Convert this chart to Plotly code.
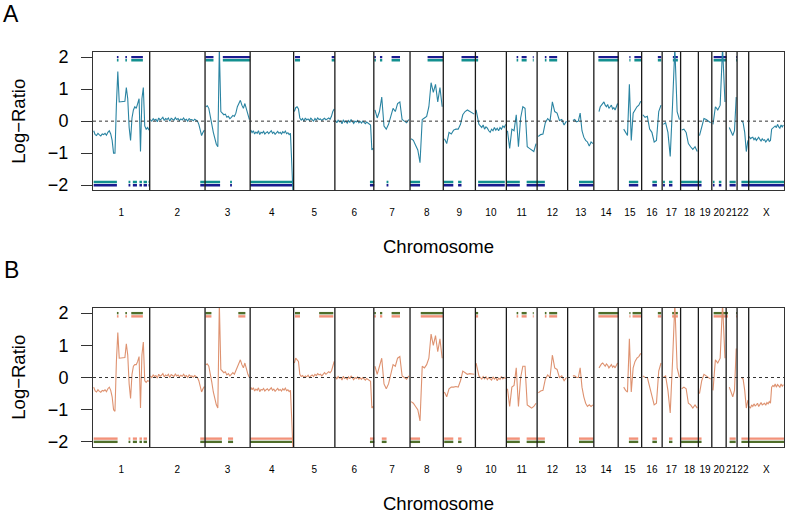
import plotly.graph_objects as go

# ---------------- data ----------------
chrom_names = ["1", "2", "3", "4", "5", "6", "7", "8", "9", "10", "11", "12",
               "13", "14", "15", "16", "17", "18", "19", "20", "21", "22", "X"]
chrom_len_mb = [249, 243, 198, 191, 181, 171, 159, 146, 141, 136, 135, 134,
                115, 107, 103, 90, 81, 78, 59, 63, 48, 51, 155]
chrom_data_start_mb = [0, 0, 0, 0, 0, 0, 0, 0, 0, 0, 0, 0,
                       19, 20, 20, 0, 0, 0, 0, 0, 10, 16, 0]

log_ratio_a = [
    [-0.3, -0.42, -0.45, -0.38, -0.43, -0.46, -0.4, -0.42, -0.38, -0.44, -0.35, -0.3, -0.4, -0.6, -1.0, -1.0,
     0.5, 1.55, 0.6, 0.6, 0.6, 0.6, 0.62, 1.05, 0.7, -0.2, -0.6, 0.1, 0.35, 0.45, 0.4, 0.55, 0.7, -0.95,
     0.7, 1.05, -0.15, -0.25, -0.2, -0.28],
    [0.05, 0.0, 0.08, 0.03, 0.06, -0.02, 0.1, 0.04, 0.07, 0.12, 0.02, 0.08, 0.05, 0.1, 0.0, 0.09, 0.06,
     0.03, 0.11, 0.05, 0.08, 0.02, 0.07, 0.04, 0.1, 0.03, 0.06, 0.0, 0.08, 0.04, 0.05, 0.01, 0.06, 0.03,
     0.0, -0.1, -0.3, -0.45, -0.35, -0.28],
    [0.45, 0.48, 0.4, 0.2, -0.1, -0.35, -0.55, -0.72, -0.8, 2.3, 0.3, 0.25, 0.2, 0.22, 0.12, 0.15, 0.08,
     0.12, 0.18, 0.15, 0.25, 0.45, 0.55, 0.65, 0.5, 0.4, 0.55, 0.35, 0.15, 0.05],
    [-0.28, -0.36, -0.3, -0.4, -0.34, -0.38, -0.3, -0.42, -0.35, -0.37, -0.32, -0.4, -0.36, -0.33, -0.39,
     -0.35, -0.3, -0.38, -0.34, -0.41, -0.36, -0.32, -0.38, -0.35, -0.4, -0.33, -0.37, -0.31, -0.39, -0.36,
     -0.42, -0.38, -1.3, -2.3],
    [0.3, 0.42, 0.45, 0.38, 0.1, 0.03, 0.08, 0.0, 0.1, 0.04, 0.07, 0.02, 0.09, 0.05, 0.0, 0.08, 0.03, 0.1,
     0.05, 0.07, 0.02, 0.06, 0.09, 0.04, 0.08, 0.1, 0.06, 0.15, 0.3, 0.38],
    [0.02, -0.05, 0.03, -0.02, 0.0, -0.08, 0.04, -0.03, 0.0, -0.06, 0.02, -0.04, 0.05, -0.02, -0.07, 0.0,
     -0.03, 0.02, -0.05, -0.01, -0.06, 0.0, -0.04, -0.08, -0.03, -0.06, -0.1, -0.12, -0.9, -0.85],
    [0.35, 0.1, 0.3, 0.75, -0.15, -0.25, -0.1, 0.15, 0.4, 0.3, 0.55, 0.6, 0.05, 0.0, -0.05, 0.05],
    [-0.55, -0.6, -0.75, -0.9, -1.3, 0.05, 0.1, 0.15, 0.45, 1.2, 0.9, 1.15, 0.6, 1.05, 0.45],
    [-0.55, -0.7, -0.35, -0.4, -0.28, -0.25, -0.25, -0.1, 0.2, 0.3, 0.35, 0.3, 0.25, 0.22],
    [0.35, 0.1, -0.1, -0.15, -0.2, -0.12, -0.25, -0.18, -0.22, -0.3, -0.35, -0.25, -0.3, -0.2, -0.28,
     -0.22, -0.3, -0.2, -0.25, -0.15, -0.2, -0.1],
    [-0.3, -0.85, -0.25, -0.3, 0.2, -0.8, 0.1, 0.45, 0.4, -0.8, -0.85, -0.9, -0.95, -0.7],
    [-0.48, -0.42, -0.4, -0.05, 0.08, 0.0, 0.6, 0.3, 0.25, 0.02, 0.05, -0.12, 0.0],
    [0.02, 0.05, -0.02, 0.0, 0.25, -0.3, -0.5, -0.6, -0.65, -0.78, -0.65, -0.7],
    [0.3, 0.45, 0.5, 0.55, 0.6, 0.5, 0.45, 0.52, 0.4, 0.45, 0.5, 0.38, 0.42, 0.35, 0.48, 0.55],
    [-0.25, -0.35, -0.45, 1.15, -0.6, 0.25, 0.35, 0.45, 0.5, 0.62],
    [0.2, 0.12, 0.15, -0.25, -0.35, -0.65, -0.6, 0.3, 0.5],
    [-0.1, -0.05, -0.35, -1.1, 0.5, 2.3, 0.3, 0.05],
    [-0.28, -0.25, -0.35, -0.7, -0.8, -0.88, -0.8, -0.95],
    [-0.45, -0.15, 0.08, 0.05, 0.0, -0.05],
    [-0.1, 0.45, 0.35, 0.5, 2.3, 0.6],
    [-0.2, -0.35, -0.45, -0.3, 0.75],
    [0.02, -0.05, -0.35, -0.95, -0.6],
    [-0.48, -0.55, -0.52, -0.5, -0.58, -0.53, -0.6, -0.55, -0.5, -0.57, -0.62, -0.55, -0.6, -0.58, -0.65,
     -0.6, -0.55, -0.63, -0.6, -0.25, -0.22, -0.2, -0.15, -0.2, -0.1, -0.18, -0.22, -0.12, -0.18, -0.12],
]

log_ratio_b = [
    [-0.3, -0.42, -0.45, -0.38, -0.43, -0.46, -0.4, -0.42, -0.38, -0.44, -0.35, -0.3, -0.4, -0.6, -1.0, -1.05,
     0.5, 1.4, 0.6, 0.6, 0.6, 0.6, 0.62, 1.05, 0.7, -0.2, -0.65, 0.1, 0.35, 0.4, 0.4, 0.5, 0.65, -0.95,
     0.7, 1.1, -0.1, -0.15, -0.1, -0.12],
    [0.05, 0.0, 0.08, 0.03, 0.06, -0.02, 0.1, 0.04, 0.07, 0.12, 0.02, 0.08, 0.05, 0.1, 0.0, 0.09, 0.06,
     0.03, 0.11, 0.05, 0.08, 0.02, 0.07, 0.04, 0.1, 0.03, 0.06, 0.0, 0.08, 0.04, 0.05, 0.01, 0.06, 0.03,
     0.0, -0.1, -0.3, -0.45, -0.35, -0.28],
    [0.4, 0.42, 0.35, 0.15, -0.15, -0.45, -0.7, -0.85, -0.95, 2.3, 0.25, 0.2, 0.15, 0.18, 0.08, 0.12, 0.05,
     0.1, 0.15, 0.1, 0.2, 0.35, 0.45, 0.55, 0.4, 0.3, 0.45, 0.25, 0.1, 0.0],
    [-0.3, -0.38, -0.32, -0.42, -0.36, -0.4, -0.32, -0.44, -0.37, -0.39, -0.34, -0.42, -0.38, -0.35, -0.41,
     -0.37, -0.32, -0.4, -0.36, -0.43, -0.38, -0.34, -0.4, -0.37, -0.42, -0.35, -0.39, -0.33, -0.41, -0.38,
     -0.44, -0.4, -1.3, -2.3],
    [0.45, 0.6, 0.55, 0.5, 0.1, 0.03, 0.06, 0.0, 0.05, 0.02, 0.07, 0.0, 0.05, 0.08, 0.03, 0.1, 0.06, 0.12,
     0.08, 0.1, 0.05, 0.12, 0.15, 0.1, 0.14, 0.18, 0.15, 0.2, 0.35, 0.5],
    [0.02, -0.05, 0.03, -0.02, 0.0, -0.08, 0.04, -0.03, 0.0, -0.06, 0.02, -0.04, 0.05, -0.02, -0.07, 0.0,
     -0.03, 0.02, -0.05, -0.01, -0.06, 0.0, -0.04, -0.08, -0.03, -0.06, -0.1, -0.12, -0.95, -0.9],
    [0.35, 0.1, 0.35, 0.6, -0.2, -0.35, -0.2, 0.15, 0.4, 0.35, 0.6, 0.65, 0.05, 0.0, -0.05, 0.05],
    [-0.75, -0.8, -0.9, -1.0, -1.35, 0.35, 0.3, 0.4, 0.6, 1.35, 1.0, 1.3, 0.8, 1.2, 0.6],
    [-0.45, -0.6, -0.35, -0.3, -0.3, -0.28, -0.3, -0.1, 0.2, 0.15, 0.1, 0.12, 0.1, 0.1],
    [0.45, 0.2, 0.05, 0.0, -0.05, 0.03, -0.04, 0.02, -0.06, 0.0, -0.03, -0.08, 0.02, -0.05, 0.0, -0.1,
     -0.02, -0.06, 0.03, -0.04, 0.0, -0.03],
    [-0.35, -0.9, -0.3, -0.25, 0.3, -0.9, 0.0, 0.35, 0.35, -0.85, -0.9, -0.95, -0.9, -0.8],
    [-0.48, -0.42, -0.4, -0.05, 0.08, 0.0, 0.7, 0.3, 0.25, 0.0, 0.05, -0.1, 0.0],
    [0.05, 0.05, 0.0, 0.0, 0.3, -0.3, -0.6, -0.8, -0.9, -0.85, -0.9, -0.85],
    [0.3, 0.38, 0.42, 0.45, 0.4, 0.35, 0.42, 0.38, 0.3, 0.35, 0.4, 0.32, 0.36, 0.3, 0.4, 0.45],
    [-0.3, -0.4, -0.45, 1.2, -0.45, 0.3, 0.5, 0.6, 0.65, 0.75],
    [0.05, 0.0, 0.0, -0.3, -0.5, -0.85, -0.8, 0.2, 0.45],
    [0.0, 0.05, -0.4, -1.1, 0.5, 2.3, 0.3, 0.0],
    [-0.35, -0.3, -0.35, -0.8, -0.85, -0.95, -0.85, -0.95],
    [-0.5, -0.1, 0.1, 0.05, 0.0, -0.05],
    [-0.4, 0.55, 0.45, 0.6, 2.3, 0.6],
    [-0.3, -0.45, -0.6, -0.4, 0.9],
    [0.0, -0.05, -0.4, -0.95, -0.7],
    [-0.9, -0.95, -0.85, -0.9, -0.82, -0.88, -0.85, -0.8, -0.9, -0.84, -0.78, -0.85, -0.82, -0.8, -0.86,
     -0.78, -0.82, -0.75, -0.8, -0.3, -0.25, -0.28, -0.2, -0.3, -0.22, -0.25, -0.3, -0.2, -0.27, -0.22],
]

# gain / loss calls, genome position (Mb) start-end
gain_a = [[105, 112], [142, 149], [168, 219], [494, 529], [570, 690], [887, 909], [1048, 1062],
          [1235, 1242], [1260, 1270], [1311, 1348], [1469, 1538], [1618, 1691], [1860, 1867],
          [1882, 1904], [1931, 1935], [1984, 1991], [2003, 2038], [2219, 2308], [2355, 2360],
          [2377, 2407], [2480, 2495], [2546, 2568], [2725, 2781], [2824, 2828]]
loss_a = [[3, 105], [156, 164], [175, 193], [204, 215], [222, 237], [244, 250], [471, 491],
          [491, 558], [602, 610], [690, 880], [1216, 1235], [1289, 1297], [1392, 1436],
          [1538, 1582], [1603, 1618], [1691, 1808], [1816, 1874], [1904, 1984], [2134, 2198],
          [2353, 2394], [2456, 2476], [2503, 2511], [2529, 2544], [2582, 2672], [2722, 2729],
          [2748, 2759], [2795, 2822], [2847, 3034]]
gain_b = [[105, 112], [142, 149], [168, 219], [494, 520], [638, 669], [887, 909], [993, 1055],
          [1235, 1242], [1260, 1270], [1311, 1348], [1439, 1538], [1680, 1691], [1860, 1867],
          [1882, 1904], [1931, 1935], [1984, 1991], [2003, 2038], [2219, 2308], [2355, 2360],
          [2369, 2407], [2480, 2495], [2543, 2568], [2725, 2788], [2824, 2828]]
loss_b = [[3, 108], [156, 164], [175, 193], [204, 215], [222, 237], [471, 491], [491, 566],
          [593, 615], [690, 880], [1216, 1235], [1268, 1289], [1392, 1436], [1542, 1582],
          [1603, 1618], [1816, 1874], [1904, 1984], [2134, 2198], [2353, 2394], [2456, 2476],
          [2529, 2544], [2582, 2672], [2795, 2822], [2847, 3034]]

y_ticks = [-2, -1, 0, 1, 2]

# ---------------- helpers ----------------
cum_start = []
acc = 0
for L in chrom_len_mb:
    cum_start.append(acc)
    acc += L
genome_len = acc
mids = [s + L / 2 for s, L in zip(cum_start, chrom_len_mb)]


def profile(values):
    xs, ys = [], []
    for k, vals in enumerate(values):
        ds = chrom_data_start_mb[k]
        L = chrom_len_mb[k]
        n = len(vals)
        for i, v in enumerate(vals):
            xs.append(cum_start[k] + ds + (L - ds) * (i + 0.5) / n)
            ys.append(v)
        xs.append(None)
        ys.append(None)
    return xs, ys


def bars(segs, level):
    xs, ys = [], []
    for s, e in segs:
        xs += [s, e, None]
        ys += [level, level, None]
    return xs, ys


FONT = "Liberation Sans, Arial, sans-serif"
fig = go.Figure()

panels = [
    dict(vals=log_ratio_a, gain=gain_a, loss=loss_a, line="#2a84a2", outer="#1b1b8f", inner="#13908f",
         xa="x", ya="y"),
    dict(vals=log_ratio_b, gain=gain_b, loss=loss_b, line="#de9270", outer="#4f6e2a", inner="#f2927a",
         xa="x2", ya="y2"),
]

for p in panels:
    for segs, lvl, col in [(p["gain"], 2.0, p["outer"]), (p["gain"], 1.9, p["inner"]),
                           (p["loss"], -1.9, p["inner"]), (p["loss"], -2.0, p["outer"])]:
        bx, by = bars(segs, lvl)
        fig.add_trace(go.Scatter(x=bx, y=by, mode="lines", line=dict(color=col, width=2.4),
                                 xaxis=p["xa"], yaxis=p["ya"], showlegend=False, hoverinfo="skip"))
    px_, py_ = profile(p["vals"])
    fig.add_trace(go.Scatter(x=px_, y=py_, mode="lines", line=dict(color=p["line"], width=1.1),
                             xaxis=p["xa"], yaxis=p["ya"], showlegend=False))

shapes = []
for xr, yr in [("x", "y"), ("x2", "y2")]:
    for s in cum_start[1:]:
        shapes.append(dict(type="line", xref=xr, yref=yr + " domain", x0=s, x1=s, y0=0, y1=1,
                           line=dict(color="#1a1a1a", width=1.3)))
    shapes.append(dict(type="line", xref=xr + " domain", yref=yr, x0=0, x1=1, y0=0, y1=0,
                       line=dict(color="#333333", width=1, dash="dot")))

xaxis_common = dict(range=[0, genome_len], tickvals=mids, ticktext=chrom_names, tickangle=0,
                    ticks="outside", ticklen=13, tickcolor="rgba(0,0,0,0)",
                    tickfont=dict(size=10, family=FONT, color="black"),
                    showline=True, mirror=True, linecolor="#333333", linewidth=1,
                    showgrid=False, zeroline=False)
yaxis_common = dict(range=[-2.16, 2.16], tickvals=y_ticks, ticks="outside", ticklen=11,
                    tickcolor="#333333", ticklabelstandoff=9,
                    tickfont=dict(size=18, family=FONT, color="black"),
                    showline=True, mirror=True, linecolor="#333333", linewidth=1,
                    showgrid=False, zeroline=False)

H = 395.0
W = 691.8


def px_x(p):
    return (p - 92.7) / W


def px_y(p):
    return (446.7 - p) / H


annotations = [
    dict(text="A", x=px_x(11), y=px_y(14), font=dict(size=23)),
    dict(text="B", x=px_x(11), y=px_y(270), font=dict(size=23)),
    dict(text="Log\u2212Ratio", x=px_x(18), y=px_y(121), textangle=-90, font=dict(size=18.5)),
    dict(text="Log\u2212Ratio", x=px_x(18), y=px_y(377), textangle=-90, font=dict(size=18.5)),
    dict(text="Chromosome", x=0.5, y=px_y(246), font=dict(size=18.5)),
    dict(text="Chromosome", x=0.5, y=px_y(503), font=dict(size=18.5)),
]
for a in annotations:
    a.update(xref="paper", yref="paper", showarrow=False, xanchor="center", yanchor="middle")
    a["font"].update(family=FONT, color="black")

fig.update_layout(
    width=787, height=516,
    margin=dict(l=92.7, r=2.5, t=51.7, b=69.3),
    paper_bgcolor="white", plot_bgcolor="white",
    xaxis=dict(domain=[0, 1], anchor="y", **xaxis_common),
    yaxis=dict(domain=[px_y(190), 1], anchor="x", **yaxis_common),
    xaxis2=dict(domain=[0, 1], anchor="y2", **xaxis_common),
    yaxis2=dict(domain=[0, px_y(307.7)], anchor="x2", **yaxis_common),
    shapes=shapes, annotations=annotations,
    font=dict(family=FONT, color="black"),
)

fig.write_html("out.html", config={"displayModeBar": False},
               post_script="document.body.style.margin='0';document.body.style.overflow='hidden';")
